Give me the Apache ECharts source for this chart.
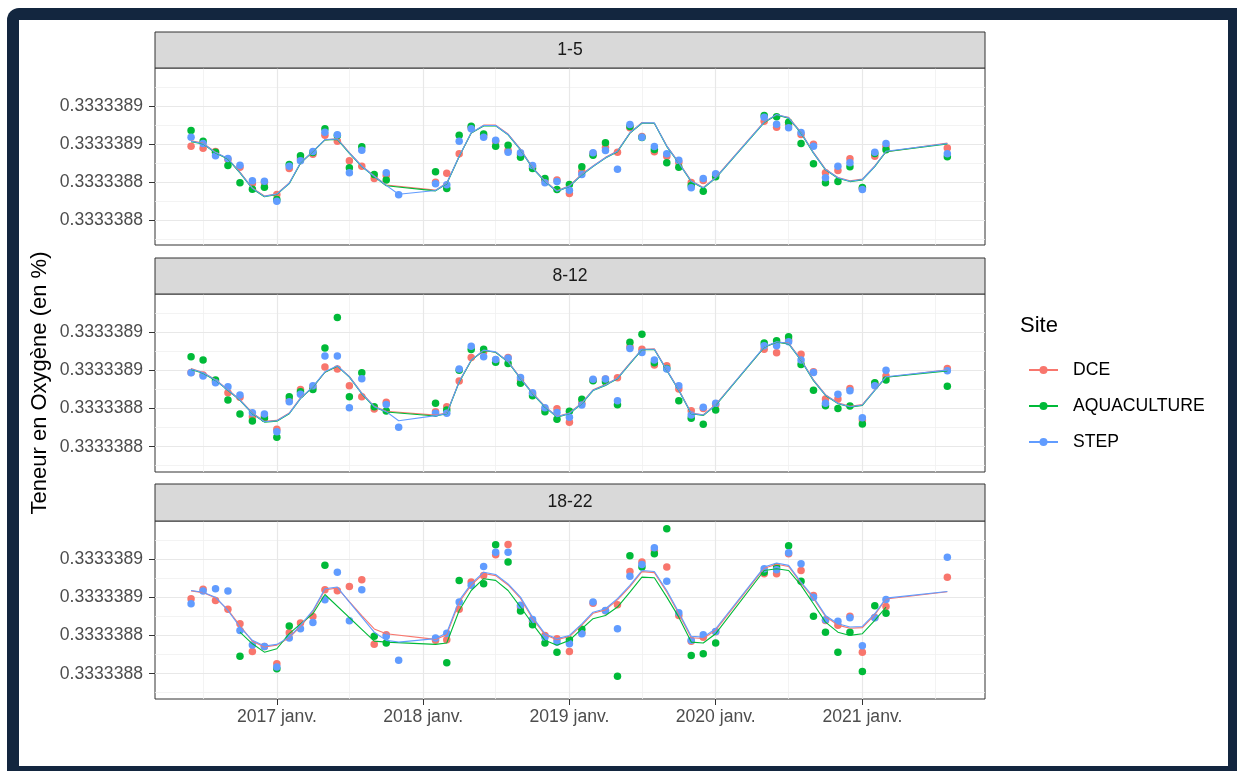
<!DOCTYPE html>
<html>
<head>
<meta charset="utf-8">
<script src="https://cdn.jsdelivr.net/npm/echarts@6/dist/echarts.min.js"></script>
<style>
  html, body { margin: 0; padding: 0; width: 1237px; height: 771px; overflow: hidden; background: #ffffff; }
  #frame { position: absolute; left: 7px; top: 8px; width: 1250px; height: 780px; background: #13263F; border-radius: 12px; }
  #inner { position: absolute; left: 19px; top: 20px; width: 1209px; height: 746px; background: #ffffff; }
  #chart { position: absolute; left: 0; top: 0; width: 1237px; height: 771px; }
</style>
</head>
<body>
<div id="frame"></div>
<div id="inner"></div>
<div id="chart"></div>
<script>
// Sampling months (first day of each month)
const months = [
  '2016-06','2016-07','2016-08','2016-09','2016-10','2016-11','2016-12',
  '2017-01','2017-02','2017-03','2017-04','2017-05','2017-06','2017-07','2017-08','2017-09','2017-10','2017-11',
  '2018-02','2018-03','2018-04','2018-05','2018-06','2018-07','2018-08','2018-09','2018-10','2018-11','2018-12',
  '2019-01','2019-02','2019-03','2019-04','2019-05','2019-06','2019-07','2019-08','2019-09','2019-10','2019-11','2019-12',
  '2020-01',
  '2020-05','2020-06','2020-07','2020-08','2020-09','2020-10','2020-11','2020-12',
  '2021-01','2021-02','2021-03',
  '2021-08'
];

const sites = ['DCE', 'AQUACULTURE', 'STEP'];
const siteColors = ['#F8766D', '#00BA38', '#619CFF'];
const panelTitles = ['1-5', '8-12', '18-22'];

// Axis ticks and labels
const yTicks = [0.33333882, 0.33333884, 0.33333886, 0.33333888];
const yMinorLines = [0.33333881, 0.33333883, 0.33333885, 0.33333887, 0.33333889];
const yRange = [0.3333388067, 0.3333389002];
const xTickYears = [2017, 2018, 2019, 2020, 2021];
const xTickSuffix = ' janv.';
const xMinorYears = [2016, 2017, 2018, 2019, 2020, 2021];
const xRange = ['2016-03-03', '2021-11-03'];

// Measured oxygen content, depth 1-5
const dce_1_5 = [0.3333388589,0.3333388578,0.3333388561,0.3333388519,0.3333388478,0.3333388392,0.3333388397,0.3333388334,0.3333388471,0.3333388524,0.3333388547,0.3333388647,0.3333388615,0.3333388512,0.3333388483,0.3333388418,0.3333388434,null,
  0.3333388399,0.3333388446,0.3333388549,0.3333388688,0.3333388645,0.3333388614,0.3333388566,0.3333388545,0.3333388482,0.3333388408,0.3333388411,0.3333388339,0.3333388455,0.3333388550,0.3333388582,0.3333388557,0.3333388686,0.3333388640,0.3333388559,0.3333388536,0.3333388503,0.3333388397,0.3333388408,0.3333388439,
  0.3333388721,0.3333388689,0.3333388703,0.3333388651,0.3333388599,0.3333388448,0.3333388460,0.3333388522,0.3333388365,0.3333388536,0.3333388587,0.3333388580];
const aqua_1_5 = [0.3333388672,0.3333388615,0.3333388557,0.3333388487,0.3333388396,0.3333388362,0.3333388372,0.3333388307,0.3333388492,0.3333388538,0.3333388556,0.3333388681,0.3333388645,0.3333388475,0.3333388586,0.3333388439,0.3333388411,null,
  0.3333388454,0.3333388365,0.3333388647,0.3333388694,0.3333388654,0.3333388589,0.3333388594,0.3333388531,0.3333388471,0.3333388418,0.3333388360,0.3333388387,0.3333388480,0.3333388541,0.3333388607,null,0.3333388693,0.3333388635,0.3333388571,0.3333388501,0.3333388478,0.3333388381,0.3333388351,0.3333388427,
  0.3333388751,0.3333388744,0.3333388716,0.3333388603,0.3333388496,0.3333388396,0.3333388402,0.3333388480,0.3333388371,0.3333388550,0.3333388570,0.3333388533];
const step_1_5 = [0.3333388636,0.3333388603,0.3333388538,0.3333388524,0.3333388488,0.3333388406,0.3333388404,0.3333388298,0.3333388483,0.3333388512,0.3333388561,0.3333388663,0.3333388649,0.3333388448,0.3333388568,null,0.3333388448,0.3333388332,
  0.3333388390,0.3333388385,0.3333388615,0.3333388681,0.3333388636,0.3333388620,0.3333388557,0.3333388554,0.3333388487,0.3333388396,0.3333388402,0.3333388356,0.3333388439,0.3333388554,0.3333388566,0.3333388467,0.3333388703,0.3333388636,0.3333388587,0.3333388549,0.3333388515,0.3333388369,0.3333388418,0.3333388443,
  0.3333388742,0.3333388705,0.3333388686,0.3333388661,0.3333388589,0.3333388422,0.3333388483,0.3333388501,0.3333388360,0.3333388557,0.3333388603,0.3333388549];

// Fitted curves, depth 1-5
const fit_dce_1_5 = [0.3333388617,0.3333388605,0.3333388557,0.3333388522,0.3333388452,0.3333388368,0.3333388326,0.3333388338,0.3333388395,0.3333388499,0.3333388560,0.3333388622,0.3333388629,0.3333388555,0.3333388485,0.3333388432,0.3333388384,null,
  0.3333388357,0.3333388395,0.3333388534,0.3333388658,0.3333388700,0.3333388700,0.3333388653,0.3333388573,0.3333388477,0.3333388406,0.3333388353,0.3333388380,0.3333388441,0.3333388485,0.3333388530,0.3333388564,0.3333388658,0.3333388714,0.3333388710,0.3333388591,0.3333388503,0.3333388406,0.3333388371,0.3333388424,
  0.3333388718,0.3333388754,0.3333388741,0.3333388662,0.3333388556,0.3333388468,0.3333388424,0.3333388406,0.3333388415,0.3333388485,0.3333388560,0.3333388605];
const fit_aqua_1_5 = [0.3333388613,0.3333388601,0.3333388553,0.3333388521,0.3333388448,0.3333388364,0.3333388322,0.3333388334,0.3333388391,0.3333388499,0.3333388560,0.3333388622,0.3333388625,0.3333388551,0.3333388481,0.3333388428,0.3333388380,null,
  0.3333388353,0.3333388391,0.3333388534,0.3333388658,0.3333388696,0.3333388696,0.3333388649,0.3333388569,0.3333388473,0.3333388402,0.3333388349,0.3333388376,0.3333388437,0.3333388481,0.3333388526,0.3333388560,0.3333388658,0.3333388710,0.3333388710,0.3333388587,0.3333388499,0.3333388402,0.3333388367,0.3333388420,
  0.3333388714,0.3333388754,0.3333388737,0.3333388658,0.3333388552,0.3333388464,0.3333388420,0.3333388402,0.3333388411,0.3333388481,0.3333388560,0.3333388601];
const fit_step_1_5 = [0.3333388615,0.3333388603,0.3333388555,0.3333388524,0.3333388450,0.3333388366,0.3333388324,0.3333388336,0.3333388393,0.3333388501,0.3333388562,0.3333388624,0.3333388627,0.3333388553,0.3333388483,0.3333388430,0.3333388382,0.3333388335,
  0.3333388355,0.3333388393,0.3333388536,0.3333388660,0.3333388698,0.3333388698,0.3333388651,0.3333388571,0.3333388475,0.3333388404,0.3333388351,0.3333388378,0.3333388439,0.3333388483,0.3333388528,0.3333388562,0.3333388660,0.3333388712,0.3333388712,0.3333388589,0.3333388501,0.3333388404,0.3333388369,0.3333388422,
  0.3333388716,0.3333388756,0.3333388739,0.3333388660,0.3333388554,0.3333388466,0.3333388422,0.3333388404,0.3333388413,0.3333388483,0.3333388562,0.3333388603];

// Measured oxygen content, depth 8-12
const dce_8_12 = [0.3333388590,0.3333388576,0.3333388542,0.3333388483,0.3333388459,0.3333388357,0.3333388360,0.3333388291,0.3333388445,0.3333388501,0.3333388515,0.3333388618,0.3333388608,0.3333388520,0.3333388462,0.3333388398,0.3333388433,null,
  0.3333388384,0.3333388410,0.3333388545,0.3333388669,0.3333388698,0.3333388655,0.3333388669,0.3333388550,0.3333388480,0.3333388396,0.3333388399,0.3333388328,0.3333388428,0.3333388550,0.3333388555,0.3333388562,0.3333388725,0.3333388712,0.3333388629,0.3333388625,0.3333388503,0.3333388389,0.3333388401,0.3333388419,
  0.3333388712,0.3333388693,0.3333388760,0.3333388685,0.3333388593,0.3333388450,0.3333388450,0.3333388506,0.3333388340,0.3333388533,0.3333388571,0.3333388611];
const aqua_8_12 = [0.3333388672,0.3333388655,0.3333388550,0.3333388445,0.3333388372,0.3333388335,0.3333388349,0.3333388249,0.3333388462,0.3333388489,0.3333388501,0.3333388719,0.3333388879,0.3333388462,0.3333388588,0.3333388410,0.3333388387,null,
  0.3333388428,0.3333388393,0.3333388602,0.3333388711,0.3333388712,0.3333388643,0.3333388637,0.3333388533,0.3333388468,0.3333388384,0.3333388344,0.3333388386,0.3333388449,0.3333388546,0.3333388541,0.3333388420,0.3333388749,0.3333388790,0.3333388641,0.3333388611,0.3333388441,0.3333388349,0.3333388318,0.3333388393,
  0.3333388745,0.3333388756,0.3333388777,0.3333388632,0.3333388497,0.3333388415,0.3333388401,0.3333388414,0.3333388319,0.3333388536,0.3333388550,0.3333388518];
const step_8_12 = [0.3333388588,0.3333388571,0.3333388536,0.3333388515,0.3333388471,0.3333388378,0.3333388372,0.3333388279,0.3333388436,0.3333388475,0.3333388520,0.3333388676,0.3333388676,0.3333388405,0.3333388557,null,0.3333388422,0.3333388302,
  0.3333388375,0.3333388375,0.3333388608,0.3333388728,0.3333388672,0.3333388658,0.3333388664,0.3333388564,0.3333388483,0.3333388405,0.3333388380,0.3333388354,0.3333388419,0.3333388554,0.3333388555,0.3333388441,0.3333388716,0.3333388695,0.3333388655,0.3333388608,0.3333388520,0.3333388366,0.3333388407,0.3333388428,
  0.3333388730,0.3333388730,0.3333388751,0.3333388655,0.3333388590,0.3333388428,0.3333388475,0.3333388494,0.3333388352,0.3333388520,0.3333388602,0.3333388599];

// Fitted curves, depth 8-12
const fit_dce_8_12 = [0.3333388610,0.3333388590,0.3333388552,0.3333388500,0.3333388447,0.3333388377,0.3333388333,0.3333388338,0.3333388377,0.3333388456,0.3333388513,0.3333388591,0.3333388623,0.3333388569,0.3333388482,0.3333388412,0.3333388386,null,
  0.3333388366,0.3333388377,0.3333388543,0.3333388653,0.3333388705,0.3333388696,0.3333388648,0.3333388561,0.3333388482,0.3333388412,0.3333388359,0.3333388377,0.3333388430,0.3333388499,0.3333388526,0.3333388561,0.3333388639,0.3333388710,0.3333388714,0.3333388604,0.3333388499,0.3333388377,0.3333388368,0.3333388421,
  0.3333388722,0.3333388749,0.3333388744,0.3333388657,0.3333388551,0.3333388473,0.3333388430,0.3333388412,0.3333388421,0.3333388499,0.3333388565,0.3333388604];
const fit_aqua_8_12 = [0.3333388606,0.3333388586,0.3333388548,0.3333388496,0.3333388443,0.3333388373,0.3333388329,0.3333388334,0.3333388373,0.3333388452,0.3333388513,0.3333388591,0.3333388623,0.3333388565,0.3333388478,0.3333388408,0.3333388382,null,
  0.3333388361,0.3333388373,0.3333388539,0.3333388653,0.3333388705,0.3333388696,0.3333388644,0.3333388557,0.3333388478,0.3333388408,0.3333388355,0.3333388373,0.3333388426,0.3333388495,0.3333388522,0.3333388557,0.3333388635,0.3333388710,0.3333388710,0.3333388600,0.3333388495,0.3333388373,0.3333388364,0.3333388417,
  0.3333388722,0.3333388749,0.3333388740,0.3333388653,0.3333388547,0.3333388469,0.3333388426,0.3333388408,0.3333388417,0.3333388495,0.3333388565,0.3333388598];
const fit_step_8_12 = [0.3333388608,0.3333388588,0.3333388550,0.3333388498,0.3333388445,0.3333388375,0.3333388331,0.3333388336,0.3333388375,0.3333388454,0.3333388515,0.3333388593,0.3333388625,0.3333388567,0.3333388480,0.3333388410,0.3333388384,0.3333388336,
  0.3333388363,0.3333388375,0.3333388541,0.3333388655,0.3333388707,0.3333388698,0.3333388646,0.3333388559,0.3333388480,0.3333388410,0.3333388357,0.3333388375,0.3333388428,0.3333388497,0.3333388524,0.3333388559,0.3333388637,0.3333388712,0.3333388712,0.3333388602,0.3333388497,0.3333388375,0.3333388366,0.3333388419,
  0.3333388724,0.3333388751,0.3333388742,0.3333388655,0.3333388549,0.3333388471,0.3333388428,0.3333388410,0.3333388419,0.3333388497,0.3333388567,0.3333388602];

// Measured oxygen content, depth 18-22
const dce_18_22 = [0.3333388594,0.3333388643,0.3333388585,0.3333388539,0.3333388462,0.3333388317,0.3333388343,0.3333388252,0.3333388415,0.3333388466,0.3333388501,0.3333388641,0.3333388636,0.3333388658,0.3333388693,0.3333388354,0.3333388405,null,
  0.3333388375,0.3333388378,0.3333388538,0.3333388681,0.3333388716,0.3333388825,0.3333388879,0.3333388550,0.3333388475,0.3333388401,0.3333388384,0.3333388317,0.3333388415,0.3333388570,0.3333388530,0.3333388562,0.3333388737,0.3333388786,0.3333388847,0.3333388760,0.3333388506,0.3333388370,0.3333388392,0.3333388420,
  0.3333388725,0.3333388725,0.3333388830,0.3333388742,0.3333388611,0.3333388480,0.3333388454,0.3333388502,0.3333388313,0.3333388495,0.3333388553,0.3333388707];
const aqua_18_22 = [null,null,null,null,0.3333388292,null,null,0.3333388226,0.3333388450,null,null,0.3333388769,null,null,null,0.3333388397,0.3333388361,null,
  null,0.3333388258,0.3333388690,null,0.3333388672,0.3333388877,0.3333388786,0.3333388529,0.3333388457,0.3333388361,0.3333388313,0.3333388378,0.3333388433,null,null,0.3333388187,0.3333388819,0.3333388760,0.3333388830,0.3333388961,null,0.3333388296,0.3333388305,0.3333388361,
  0.3333388733,0.3333388760,0.3333388872,0.3333388685,0.3333388502,0.3333388418,0.3333388313,0.3333388418,0.3333388212,0.3333388557,0.3333388518,null];
const step_18_22 = [0.3333388567,0.3333388634,0.3333388646,0.3333388634,0.3333388427,0.3333388350,0.3333388343,0.3333388235,0.3333388387,0.3333388436,0.3333388469,0.3333388588,0.3333388733,0.3333388478,0.3333388641,null,0.3333388397,0.3333388270,
  0.3333388387,0.3333388413,0.3333388576,0.3333388664,0.3333388763,0.3333388838,0.3333388838,0.3333388559,0.3333388485,0.3333388392,0.3333388366,0.3333388357,0.3333388410,0.3333388576,0.3333388532,0.3333388436,0.3333388712,0.3333388774,0.3333388861,0.3333388686,0.3333388520,0.3333388375,0.3333388405,0.3333388422,
  0.3333388751,0.3333388746,0.3333388835,0.3333388777,0.3333388602,0.3333388483,0.3333388476,0.3333388494,0.3333388347,0.3333388494,0.3333388590,0.3333388812];

// Fitted curves, depth 18-22
const fit_dce_18_22 = [0.3333388635,0.3333388626,0.3333388598,0.3333388535,0.3333388453,0.3333388370,0.3333388340,0.3333388350,0.3333388388,0.3333388448,0.3333388526,0.3333388640,0.3333388650,0.3333388578,0.3333388505,0.3333388435,0.3333388410,null,
  0.3333388380,0.3333388405,0.3333388575,0.3333388665,0.3333388726,0.3333388715,0.3333388666,0.3333388595,0.3333388490,0.3333388404,0.3333388378,0.3333388395,0.3333388455,0.3333388517,0.3333388535,0.3333388588,0.3333388657,0.3333388736,0.3333388731,0.3333388629,0.3333388515,0.3333388389,0.3333388385,0.3333388429,
  0.3333388754,0.3333388775,0.3333388763,0.3333388675,0.3333388595,0.3333388500,0.3333388455,0.3333388439,0.3333388442,0.3333388509,0.3333388592,0.3333388630];
const fit_aqua_18_22 = [null,null,null,null,0.3333388418,0.3333388357,0.3333388313,0.3333388331,0.3333388410,0.3333388462,0.3333388515,0.3333388616,null,null,null,0.3333388371,0.3333388366,null,
  0.3333388354,0.3333388361,0.3333388532,0.3333388637,0.3333388699,0.3333388690,0.3333388637,0.3333388550,0.3333388462,0.3333388375,0.3333388349,0.3333388375,0.3333388436,0.3333388489,0.3333388506,0.3333388550,0.3333388628,0.3333388707,0.3333388704,0.3333388602,0.3333388497,0.3333388366,0.3333388361,0.3333388410,
  0.3333388742,0.3333388751,0.3333388742,0.3333388664,0.3333388567,0.3333388471,0.3333388418,0.3333388401,0.3333388410,0.3333388480,0.3333388550,null];
const fit_step_18_22 = [0.3333388637,0.3333388628,0.3333388602,0.3333388532,0.3333388445,0.3333388375,0.3333388345,0.3333388354,0.3333388392,0.3333388454,0.3333388532,0.3333388646,0.3333388655,0.3333388576,0.3333388497,0.3333388418,0.3333388375,0.3333388366,
  0.3333388384,0.3333388415,0.3333388585,0.3333388672,0.3333388733,0.3333388721,0.3333388672,0.3333388602,0.3333388497,0.3333388410,0.3333388384,0.3333388401,0.3333388462,0.3333388523,0.3333388541,0.3333388594,0.3333388664,0.3333388742,0.3333388737,0.3333388637,0.3333388523,0.3333388397,0.3333388392,0.3333388436,
  0.3333388760,0.3333388781,0.3333388769,0.3333388681,0.3333388602,0.3333388506,0.3333388462,0.3333388445,0.3333388448,0.3333388515,0.3333388597,0.3333388632];

const panelPoints = [
  [dce_1_5, aqua_1_5, step_1_5],
  [dce_8_12, aqua_8_12, step_8_12],
  [dce_18_22, aqua_18_22, step_18_22]
];
const panelFits = [
  [fit_dce_1_5, fit_aqua_1_5, fit_step_1_5],
  [fit_dce_8_12, fit_aqua_8_12, fit_step_8_12],
  [fit_dce_18_22, fit_aqua_18_22, fit_step_18_22]
];

// ---- helpers ----
const FONT = '"Liberation Sans", Arial, Helvetica, sans-serif';
const monthStart = s => { const [y, m, d] = s.split('-').map(Number); return new Date(y, m - 1, d || 1).getTime(); };
const xs = months.map(monthStart);
const pairs = vals => xs.map((x, i) => (vals[i] == null ? null : [x, vals[i]])).filter(Boolean);
const xTickValues = xTickYears.map(y => new Date(y, 0, 1).getTime());
const xMinorValues = xMinorYears.map(y => new Date(y, 6, 1).getTime());

// ---- layout ----
const PANEL_LEFT = 155, PANEL_WIDTH = 830;
const gridTops = [68, 294, 521];
const gridHeights = [177, 178, 178];
const stripTops = [32, 258, 484];
const stripHeights = [36, 36, 37];

const grids = [], xAxes = [], yAxes = [], series = [], graphics = [];

// background grid lines, kept underneath the data
const gridLineSeries = (p, values, style) => ({
  type: 'line', xAxisIndex: p, yAxisIndex: p, data: [], silent: true, z: 1,
  markLine: {
    silent: true, symbol: ['none', 'none'], label: { show: false }, animation: false,
    precision: 12, z: 1,
    lineStyle: style,
    emphasis: { disabled: true },
    data: values
  }
});

for (let p = 0; p < 3; p++) {
  const isBottom = p === 2;
  grids.push({
    left: PANEL_LEFT, top: gridTops[p], width: PANEL_WIDTH, height: gridHeights[p],
    show: true, backgroundColor: '#ffffff', borderColor: '#333333', borderWidth: 1,
    containLabel: false
  });
  // dates are plotted as timestamps on a linear axis
  xAxes.push({
    gridIndex: p, type: 'value', min: monthStart(xRange[0]), max: monthStart(xRange[1]),
    axisLine: { show: false },
    axisTick: { show: isBottom, length: 6, lineStyle: { color: '#333333', width: 1 }, customValues: xTickValues },
    axisLabel: {
      show: isBottom, customValues: xTickValues,
      formatter: v => new Date(v).getFullYear() + xTickSuffix,
      fontSize: 17.6, color: '#4D4D4D', fontFamily: FONT, margin: 9
    },
    splitLine: { show: false }
  });
  yAxes.push({
    gridIndex: p, type: 'value', min: yRange[0], max: yRange[1],
    axisLine: { show: false },
    axisTick: { show: true, length: 6, lineStyle: { color: '#333333', width: 1 }, customValues: yTicks },
    axisLabel: {
      customValues: yTicks, formatter: v => v.toFixed(7),
      fontSize: 17.6, color: '#4D4D4D', fontFamily: FONT, margin: 12
    },
    splitLine: { show: false }
  });

  series.push(gridLineSeries(p,
    xMinorValues.map(v => ({ xAxis: v })).concat(yMinorLines.map(v => ({ yAxis: v }))),
    { color: '#F0F0F0', width: 0.8, type: 'solid' }));
  series.push(gridLineSeries(p,
    xTickValues.map(v => ({ xAxis: v })).concat(yTicks.map(v => ({ yAxis: v }))),
    { color: '#E8E8E8', width: 1.2, type: 'solid' }));

  // fitted curves
  for (let s = 0; s < 3; s++) {
    series.push({
      name: sites[s], type: 'line', xAxisIndex: p, yAxisIndex: p,
      data: pairs(panelFits[p][s]), showSymbol: false, symbol: 'circle', symbolSize: 7,
      lineStyle: { color: siteColors[s], width: 1.1 }, itemStyle: { color: siteColors[s] },
      z: 4, silent: true, animation: false
    });
  }
  // observed points
  for (let s = 0; s < 3; s++) {
    series.push({
      name: sites[s], type: 'scatter', xAxisIndex: p, yAxisIndex: p,
      data: pairs(panelPoints[p][s]), symbol: 'circle', symbolSize: 7.5,
      itemStyle: { color: siteColors[s], opacity: 1, borderWidth: 0 }, z: 3, animation: false
    });
  }

  // facet strip
  graphics.push({
    type: 'rect', z: 10,
    shape: { x: PANEL_LEFT, y: stripTops[p], width: PANEL_WIDTH, height: stripHeights[p] },
    style: { fill: '#D9D9D9', stroke: '#333333', lineWidth: 1 }
  });
  graphics.push({
    type: 'text', z: 11, x: PANEL_LEFT + PANEL_WIDTH / 2, y: stripTops[p] + stripHeights[p] / 2,
    style: { text: panelTitles[p], fill: '#1A1A1A', font: '17.6px ' + FONT, align: 'center', verticalAlign: 'middle' }
  });
}

// axis title and legend title
graphics.push({
  type: 'text', z: 11, x: 40, y: 383, rotation: Math.PI / 2,
  style: { text: 'Teneur en Oxygène (en %)', fill: '#000000', font: '22px ' + FONT, align: 'center', verticalAlign: 'middle' }
});
graphics.push({
  type: 'text', z: 11, x: 1020, y: 326,
  style: { text: 'Site', fill: '#000000', font: '22px ' + FONT, align: 'left', verticalAlign: 'middle' }
});

const chart = echarts.init(document.getElementById('chart'), null, { renderer: 'canvas' });
chart.setOption({
  backgroundColor: 'transparent',
  animation: false,
  textStyle: { fontFamily: FONT },
  grid: grids,
  xAxis: xAxes,
  yAxis: yAxes,
  legend: {
    data: sites, orient: 'vertical', left: 1023, top: 355,
    itemWidth: 29, itemHeight: 10, itemGap: 16,
    selectedMode: false,
    textStyle: { fontSize: 17.6, color: '#000000', fontFamily: FONT, lineHeight: 20, padding: [0, 0, 0, 10] }
  },
  tooltip: { show: false },
  graphic: graphics,
  series: series
});
</script>
</body>
</html>
